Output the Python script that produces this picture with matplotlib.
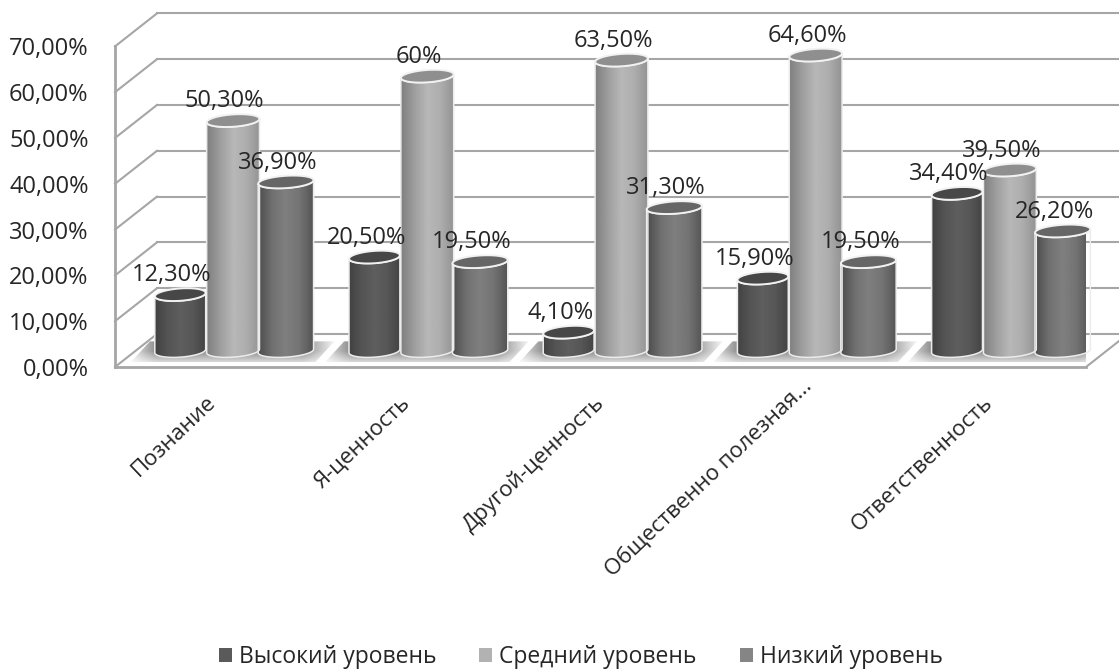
import matplotlib
matplotlib.use("Agg")
import matplotlib.pyplot as plt
import numpy as np
from matplotlib.patches import Patch, Polygon
from matplotlib.transforms import ScaledTranslation

plt.rcParams["font.family"] = ["Open Sans", "DejaVu Sans"]

# chart data
categories = ["Познание", "Я-ценность", "Другой-ценность", "Общественно полезная...", "Ответственность"]
series_names = ["Высокий уровень", "Средний уровень", "Низкий уровень"]
high = [12.3, 20.5, 4.1, 15.9, 34.4]
medium = [50.3, 60.0, 63.5, 64.6, 39.5]
low = [36.9, 19.5, 31.3, 19.5, 26.2]
high_labels = ["12,30%", "20,50%", "4,10%", "15,90%", "34,40%"]
medium_labels = ["50,30%", "60%", "63,50%", "64,60%", "39,50%"]
low_labels = ["36,90%", "19,50%", "31,30%", "19,50%", "26,20%"]
y_ticks = [0, 10, 20, 30, 40, 50, 60, 70]
y_tick_labels = ["0,00%", "10,00%", "20,00%", "30,00%", "40,00%", "50,00%", "60,00%", "70,00%"]

# look of the fake 3d
TEXT = "#262626"
GRID = "#a6a6a6"
DEPTH_X, DEPTH_Y = 0.216, 7.2   # front plane to back wall, in data units
BAR_DX, BAR_DY = 0.108, 3.5     # front plane to bar bases
SLOTS = [-0.272, 0.0, 0.272]
WIDTHS = [0.262, 0.272, 0.285]
CAP_B, CAP_TILT = 1.35, 0.38
# grey ramps left to right across a cylinder
RAMPS = [
    [0.26, 0.33, 0.37, 0.34, 0.27],
    [0.50, 0.62, 0.72, 0.68, 0.58],
    [0.30, 0.44, 0.50, 0.45, 0.33],
]
CAPS = ["#474747", "#8f8f8f", "#666666"]
LEGEND_COLORS = ["#5a5a5a", "#b2b2b2", "#858585"]
# nudges for the slanted labels, pixels
LABEL_SHIFT = [(-6, 0), (-6, 0), (-6, 0), (7, 16), (-6, 0)]


def arc(cx, cy, half, start, stop):
    t = np.linspace(start, stop, 40)
    return np.column_stack((cx + half * np.cos(t), cy + CAP_B * np.sin(t) + CAP_TILT * np.cos(t)))


def draw_cylinder(ax, cx, value, half, ramp, cap):
    base = BAR_DY
    top = BAR_DY + value
    body = np.vstack((arc(cx, base, half, np.pi, 2 * np.pi), arc(cx, top, half, 2 * np.pi, np.pi)))
    outline = Polygon(body, closed=True, facecolor="none", edgecolor="#ececec", lw=1.1, zorder=4, clip_on=False)
    ax.add_patch(outline)
    shade = np.interp(np.linspace(0, 1, 60), np.linspace(0, 1, len(ramp)), ramp)
    im = ax.imshow(shade[np.newaxis, :], cmap="gray", vmin=0, vmax=1, aspect="auto", zorder=3,
                   extent=(cx - half, cx + half, base - 2, top + 2), interpolation="bilinear")
    im.set_clip_path(outline)
    ax.add_patch(Polygon(arc(cx, top, half, 0, 2 * np.pi), closed=True, facecolor=cap,
                         edgecolor="#f2f2f2", lw=1.4, zorder=5, clip_on=False))


def draw_floor_shadow(ax, i):
    corners = [(i - 0.42, 1.0), (i - 0.32, 5.6), (i + 0.63, 5.6), (i + 0.53, 1.0)]
    across = np.interp(np.linspace(0, 1, 80), [0, 0.12, 0.85, 1], [0.2, 0.9, 0.9, 0.1])
    deep = np.interp(np.linspace(0, 1, 20), [0, 0.5, 1], [1.0, 1.0, 0.35])
    rgba = np.full((20, 80, 4), 0.5)
    rgba[:, :, 3] = np.outer(deep, across)
    im = ax.imshow(rgba, aspect="auto", zorder=2, extent=(i - 0.42, i + 0.63, 1.0, 5.6), interpolation="bilinear")
    clip = Polygon(corners, closed=True, facecolor="none", edgecolor="none", zorder=2, clip_on=False)
    ax.add_patch(clip)
    im.set_clip_path(clip)


fig = plt.figure(figsize=(11.19, 6.70), dpi=100)
ax = fig.add_axes([115 / 1119, (670 - 367) / 670, (1086 - 115) / 1119, (367 - 13) / 670])

x = np.arange(len(categories))

# walls
for v in y_ticks:
    ax.plot([-0.5, -0.5 + DEPTH_X], [v, v + DEPTH_Y], color=GRID, lw=1.5, clip_on=False, zorder=1)
    ax.plot([-0.5 + DEPTH_X, 4.5 + DEPTH_X], [v + DEPTH_Y, v + DEPTH_Y], color=GRID, lw=1.5, clip_on=False, zorder=1)
ax.plot([4.5, 4.5 + DEPTH_X], [0, DEPTH_Y], color=GRID, lw=1.5, clip_on=False, zorder=1)

for i in x:
    draw_floor_shadow(ax, i)

# cylinders and their labels
for s, (values, labels) in enumerate(zip((high, medium, low), (high_labels, medium_labels, low_labels))):
    for i, (value, label) in enumerate(zip(values, labels)):
        cx = i + BAR_DX + SLOTS[s]
        draw_cylinder(ax, cx, value, WIDTHS[s] / 2, RAMPS[s], CAPS[s])
        ax.annotate(label, (cx, BAR_DY + value), xytext=(-6, 14), textcoords="offset points",
                    ha="center", va="center", fontsize=17, color=TEXT, zorder=6, annotation_clip=False)

ax.set_xlim(-0.5, 4.5)
ax.set_ylim(0, (367 - 13) / 4.58)
ax.patch.set_alpha(0)

ax.set_yticks(y_ticks)
ax.set_yticklabels(y_tick_labels, fontsize=17, color=TEXT)
ax.set_xticks(x)
ax.set_xticklabels(categories, rotation=43.5, ha="right", rotation_mode="anchor", fontsize=16, color=TEXT)
ax.tick_params(axis="both", length=0)
ax.tick_params(axis="y", pad=19)
ax.tick_params(axis="x", pad=18)
for tick_label, (dx, dy) in zip(ax.get_xticklabels(), LABEL_SHIFT):
    tick_label.set_transform(tick_label.get_transform() + ScaledTranslation(dx / 100, dy / 100, fig.dpi_scale_trans))

for side in ("top", "right"):
    ax.spines[side].set_visible(False)
for side in ("left", "bottom"):
    ax.spines[side].set_color(GRID)
    ax.spines[side].set_linewidth(2)
ax.spines["left"].set_bounds(0, 70)

handles = [Patch(facecolor=c, edgecolor="none", label=n) for c, n in zip(LEGEND_COLORS, series_names)]
fig.legend(handles=handles, loc="lower center", ncol=3, frameon=False, fontsize=16.5, labelcolor=TEXT,
           handlelength=0.57, handleheight=0.57, handletextpad=0.3, columnspacing=1.88,
           bbox_to_anchor=(0.519, -0.029))

fig.savefig("out.png", dpi=100)
